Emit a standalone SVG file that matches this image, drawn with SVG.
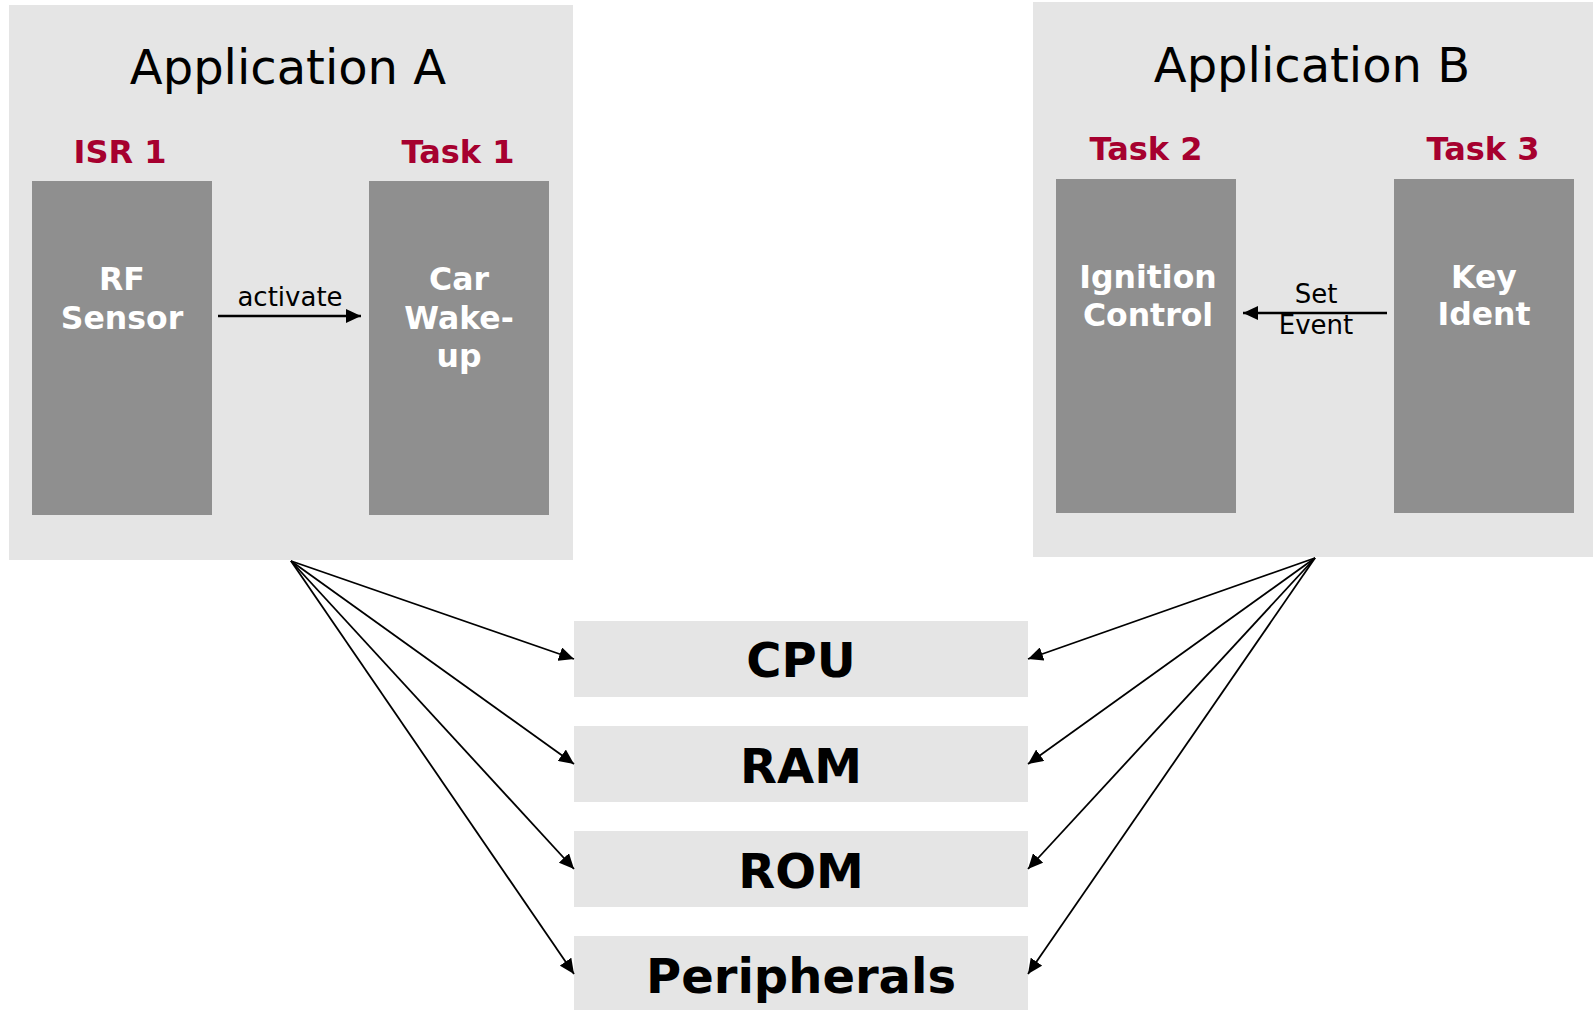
<svg xmlns="http://www.w3.org/2000/svg" width="1593" height="1010" viewBox="0 0 1593 1010">
  <style>
    .app { fill: #E5E5E5; }
    .task { fill: #8F8F8F; }
    .res { fill: #E5E5E5; }
    .title { font-family: "DejaVu Sans", Verdana, sans-serif; font-size: 48px; fill: #000; text-anchor: middle; }
    .lbl { font-family: "DejaVu Sans", Verdana, sans-serif; font-weight: bold; font-size: 32px; fill: #A6002F; text-anchor: middle; }
    .inner { font-family: "DejaVu Sans", Verdana, sans-serif; font-weight: bold; font-size: 31.5px; fill: #FFFFFF; text-anchor: middle; }
    .edge { font-family: "DejaVu Sans", Verdana, sans-serif; font-size: 26px; fill: #000; text-anchor: middle; }
    .restext { font-family: "DejaVu Sans", Verdana, sans-serif; font-weight: bold; font-size: 48px; fill: #000; text-anchor: middle; }
    .fan { stroke: #000; stroke-width: 1.8; fill: none; marker-end: url(#ah); }
    .flow { stroke: #000; stroke-width: 2.6; fill: none; marker-end: url(#ah); }
  </style>
  <defs>
    <marker id="ah" markerUnits="userSpaceOnUse" markerWidth="16" markerHeight="14" refX="15" refY="7" orient="auto" viewBox="0 0 16 14">
      <path d="M0,0 L15,7 L0,14 z" fill="#000"/>
    </marker>
  </defs>

  <g id="appA">
    <rect class="app" x="9" y="5" width="564" height="555"/>
    <text class="title" x="288" y="84">Application A</text>
  </g>
  <g id="appB">
    <rect class="app" x="1033" y="2" width="560" height="555"/>
    <text class="title" x="1312" y="82">Application B</text>
  </g>

  <g id="isr1">
    <text class="lbl" x="120" y="163">ISR 1</text>
    <rect class="task" x="32" y="181" width="180" height="334"/>
    <text class="inner" x="122" y="290">RF</text>
    <text class="inner" x="122" y="329">Sensor</text>
  </g>
  <g id="task1">
    <text class="lbl" x="458" y="163">Task 1</text>
    <rect class="task" x="369" y="181" width="180" height="334"/>
    <text class="inner" x="459" y="290">Car</text>
    <text class="inner" x="459" y="329">Wake-</text>
    <text class="inner" x="459" y="367">up</text>
  </g>
  <g id="task2">
    <text class="lbl" x="1146" y="160">Task 2</text>
    <rect class="task" x="1056" y="179" width="180" height="334"/>
    <text class="inner" x="1148" y="288">Ignition</text>
    <text class="inner" x="1148" y="326">Control</text>
  </g>
  <g id="task3">
    <text class="lbl" x="1483" y="160">Task 3</text>
    <rect class="task" x="1394" y="179" width="180" height="334"/>
    <text class="inner" x="1484" y="288">Key</text>
    <text class="inner" x="1484" y="325">Ident</text>
  </g>

  <g id="cpu">
    <rect class="res" x="574" y="621" width="454" height="76"/>
    <text class="restext" x="801" y="677">CPU</text>
  </g>
  <g id="ram">
    <rect class="res" x="574" y="726" width="454" height="76"/>
    <text class="restext" x="801" y="783">RAM</text>
  </g>
  <g id="rom">
    <rect class="res" x="574" y="831" width="454" height="76"/>
    <text class="restext" x="801" y="888">ROM</text>
  </g>
  <g id="peripherals">
    <rect class="res" x="574" y="936" width="454" height="76"/>
    <text class="restext" x="801" y="993">Peripherals</text>
  </g>

  <g id="connectors">
    <line class="flow" x1="218" y1="316" x2="361" y2="316"/>
    <text class="edge" x="290" y="306">activate</text>
    <line class="flow" x1="1387" y1="313" x2="1243" y2="313"/>
    <text class="edge" x="1316" y="303">Set</text>
    <text class="edge" x="1316" y="334">Event</text>

    <line class="fan" x1="291" y1="561" x2="574" y2="659"/>
    <line class="fan" x1="291" y1="561" x2="574" y2="764"/>
    <line class="fan" x1="291" y1="561" x2="574" y2="869"/>
    <line class="fan" x1="291" y1="561" x2="574" y2="974"/>

    <line class="fan" x1="1315" y1="558" x2="1028" y2="659"/>
    <line class="fan" x1="1315" y1="558" x2="1028" y2="764"/>
    <line class="fan" x1="1315" y1="558" x2="1028" y2="869"/>
    <line class="fan" x1="1315" y1="558" x2="1028" y2="974"/>
  </g>
</svg>
